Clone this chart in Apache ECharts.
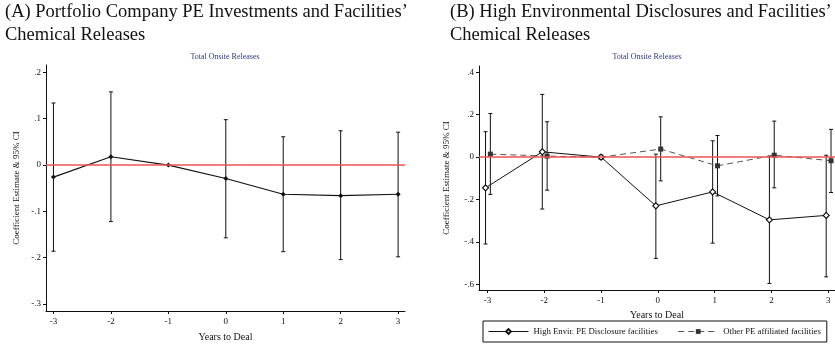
<!DOCTYPE html>
<html>
<head>
<meta charset="utf-8">
<script src="https://cdn.jsdelivr.net/npm/echarts@6/dist/echarts.min.js"></script>
<style>
  html, body { margin: 0; padding: 0; background: #fff; }
  #chart { width: 835px; height: 347px; }
</style>
</head>
<body>
<div id="chart"></div>
<script>
"use strict";

// years relative to the deal
var years = [-3, -2, -1, 0, 1, 2, 3];

// panel A: point estimates and 95% CI
var estA = [-0.026, 0.018, 0, -0.029, -0.063, -0.066, -0.063];
var lowA = [-0.186, -0.122, null, -0.157, -0.187, -0.204, -0.198];
var highA = [0.134, 0.158, null, 0.098, 0.061, 0.074, 0.071];

// panel B: high environmental disclosure facilities
var estHigh = [-0.145, 0.025, 0, -0.23, -0.164, -0.296, -0.275];
var lowHigh = [-0.41, -0.245, null, -0.478, -0.406, -0.596, -0.565];
var highHigh = [0.12, 0.296, null, 0.014, 0.077, 0.005, 0.009];

// panel B: other PE affiliated facilities
var estOther = [0.014, 0.005, 0, 0.038, -0.041, 0.009, -0.017];
var lowOther = [-0.176, -0.156, null, -0.112, -0.183, -0.145, -0.167];
var highOther = [0.206, 0.167, null, 0.19, 0.102, 0.17, 0.131];

var ticksA = [-0.3, -0.2, -0.1, 0, 0.1, 0.2];
var ticksB = [-0.6, -0.4, -0.2, 0, 0.2, 0.4];

var serif = "'Liberation Serif', 'DejaVu Serif', serif";

// stata style tick labels: .2, -.1, 0
function stataLabel(v) {
    var s = String(Number(v.toFixed(1)));
    return s.replace("0.", ".");
}

function points(est, shift) {
    return years.map(function (x, i) { return [x + (i == 2 ? 0 : shift), est[i]]; });
}

function bars(low, high, shift) {
    var out = [];
    for (var i = 0; i < years.length; i++) {
        if (low[i] == null) continue;
        out.push([years[i] + shift, low[i], high[i]]);
    }
    return out;
}

// error bar with small caps
function renderBar(params, api) {
    var a = api.coord([api.value(0), api.value(1)]);
    var b = api.coord([api.value(0), api.value(2)]);
    var st = { stroke: '#111', lineWidth: 1 };
    var c = 2;
    return {
        type: 'group',
        children: [
            { type: 'line', shape: { x1: a[0], y1: a[1], x2: b[0], y2: b[1] }, style: st },
            { type: 'line', shape: { x1: a[0] - c, y1: a[1], x2: a[0] + c, y2: a[1] }, style: st },
            { type: 'line', shape: { x1: b[0] - c, y1: b[1], x2: b[0] + c, y2: b[1] }, style: st }
        ]
    };
}

function xAxisFor(idx, min, max, gap) {
    return {
        type: 'value', gridIndex: idx, min: min, max: max,
        name: 'Years to Deal', nameLocation: 'middle', nameGap: gap,
        nameTextStyle: { fontFamily: serif, fontSize: 10, color: '#111' },
        splitLine: { show: false },
        axisLine: { onZero: false, lineStyle: { color: '#111', width: 1 } },
        axisTick: { show: true, length: 3, customValues: years, lineStyle: { color: '#111' } },
        axisLabel: { customValues: years, fontFamily: serif, fontSize: 9, color: '#111', margin: 6,
            formatter: function (v) { return String(v); } }
    };
}

function yAxisFor(idx, min, max, ticks, gap) {
    return {
        type: 'value', gridIndex: idx, min: min, max: max,
        name: 'Coefficient Estimate & 95% CI', nameLocation: 'middle', nameGap: gap,
        nameTextStyle: { fontFamily: serif, fontSize: 9, color: '#111' },
        splitLine: { show: false },
        axisLine: { show: true, onZero: false, lineStyle: { color: '#111', width: 1 } },
        axisTick: { show: true, length: 3, customValues: ticks, lineStyle: { color: '#111' } },
        axisLabel: { customValues: ticks, fontFamily: serif, fontSize: 9, color: '#111', margin: 5,
            formatter: stataLabel }
    };
}

var zeroLine = {
    silent: true, symbol: ['none', 'none'], label: { show: false },
    lineStyle: { color: '#f25050', width: 1.5, type: 'solid' },
    data: [{ yAxis: 0 }]
};

var titleFont = { fontFamily: serif, fontSize: 18.5, fontWeight: 'normal', color: '#111', lineHeight: 23 };
var subFont = { fontFamily: serif, fontSize: 8, fontWeight: 'normal', color: '#2b3a8c' };

var option = {
    animation: false,
    backgroundColor: '#fff',
    title: [
        { text: "(A) Portfolio Company PE Investments and Facilities’\nChemical Releases",
          left: 5, top: 1, padding: 0, textStyle: titleFont },
        { text: "(B) High Environmental Disclosures and Facilities’\nChemical Releases",
          left: 450, top: 1, padding: 0, textStyle: titleFont },
        { text: 'Total Onsite Releases', left: 225, top: 53, padding: 0, textAlign: 'center', textStyle: subFont },
        { text: 'Total Onsite Releases', left: 647, top: 53, padding: 0, textAlign: 'center', textStyle: subFont }
    ],
    legend: {
        left: 483, top: 321,
        itemWidth: 40, itemHeight: 6, itemGap: 20,
        padding: [6, 6, 6, 5],
        borderColor: '#111', borderWidth: 1,
        lineStyle: { width: 1 },
        textStyle: { fontFamily: serif, fontSize: 8.7, color: '#111' },
        data: ['High Envir. PE Disclosure facilities', 'Other PE affiliated facilities']
    },
    grid: [
        { left: 46, right: 430, top: 65, bottom: 29 },
        { left: 479, right: 0, top: 66, bottom: 57 }
    ],
    xAxis: [xAxisFor(0, -3.13, 3.12, 21), xAxisFor(1, -3.15, 3.12, 17)],
    yAxis: [yAxisFor(0, -0.315, 0.216, ticksA, 25), yAxisFor(1, -0.627, 0.43, ticksB, 28)],
    series: [
        {
            name: 'Panel A', type: 'line', xAxisIndex: 0, yAxisIndex: 0,
            data: points(estA, 0), symbol: 'diamond', symbolSize: 5,
            itemStyle: { color: '#111' }, lineStyle: { color: '#111', width: 1.2 },
            markLine: zeroLine, z: 3
        },
        {
            name: 'Panel A CI', type: 'custom', xAxisIndex: 0, yAxisIndex: 0,
            data: bars(lowA, highA, 0), renderItem: renderBar, z: 2
        },
        {
            name: 'Other PE affiliated facilities', type: 'line', xAxisIndex: 1, yAxisIndex: 1,
            data: points(estOther, 0.05), symbol: 'rect', symbolSize: 5,
            itemStyle: { color: '#333' }, lineStyle: { color: '#555', width: 1, type: [6, 4] },
            markLine: zeroLine, z: 3
        },
        {
            name: 'Other CI', type: 'custom', xAxisIndex: 1, yAxisIndex: 1,
            data: bars(lowOther, highOther, 0.05), renderItem: renderBar, z: 2
        },
        {
            name: 'High Envir. PE Disclosure facilities', type: 'line', xAxisIndex: 1, yAxisIndex: 1,
            data: points(estHigh, -0.035), symbol: 'diamond', symbolSize: 6,
            itemStyle: { color: '#fff', borderColor: '#111', borderWidth: 1.2 },
            lineStyle: { color: '#111', width: 1 }, z: 4
        },
        {
            name: 'High CI', type: 'custom', xAxisIndex: 1, yAxisIndex: 1,
            data: bars(lowHigh, highHigh, -0.035), renderItem: renderBar, z: 2
        }
    ]
};

var chart_object = echarts.init(document.getElementById('chart'));
chart_object.setOption(option);
</script>
</body>
</html>
